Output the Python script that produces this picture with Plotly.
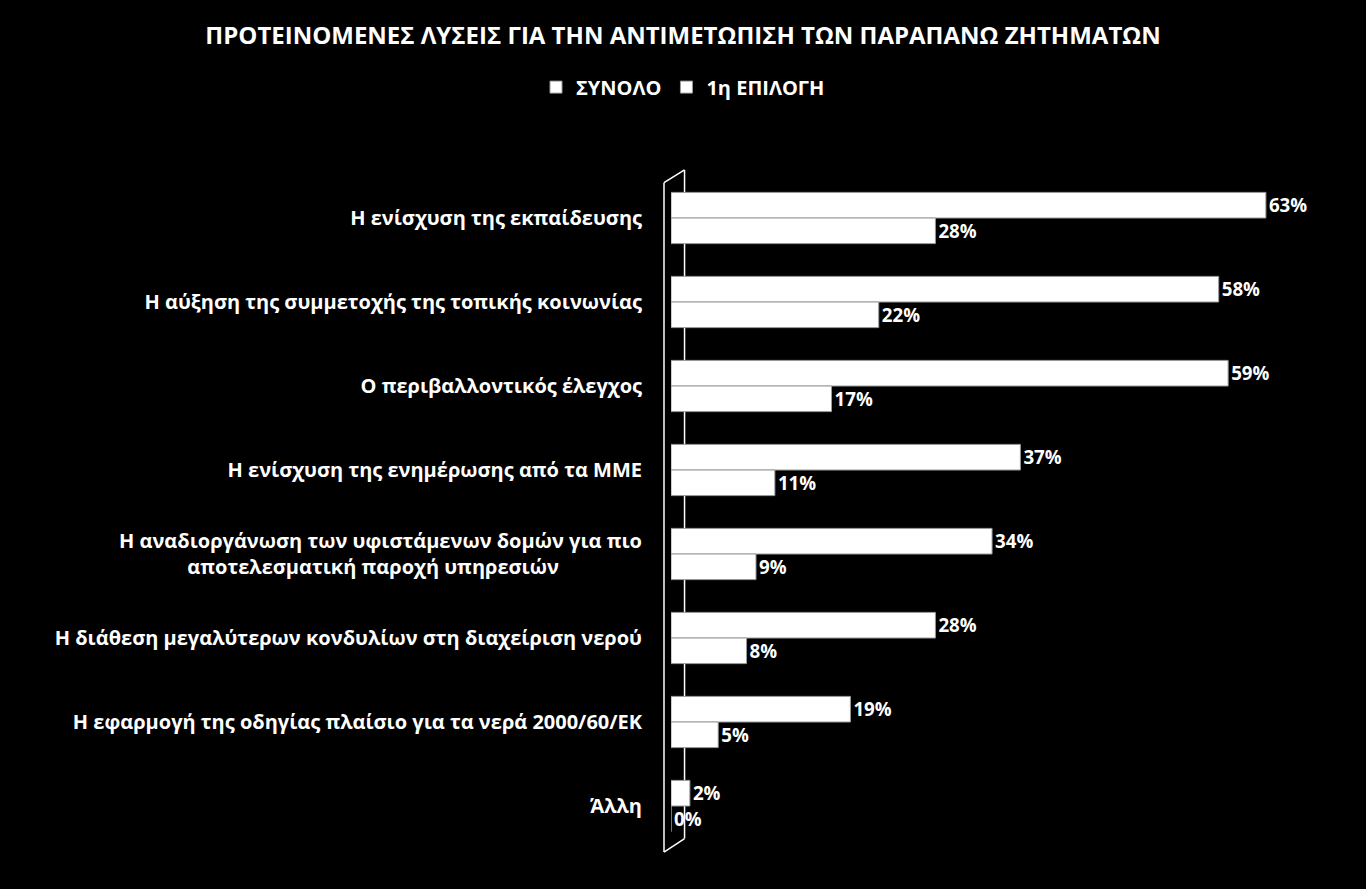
import plotly.graph_objects as go

categories = [
    "Η ενίσχυση της εκπαίδευσης",
    "Η αύξηση της συμμετοχής της τοπικής κοινωνίας",
    "Ο περιβαλλοντικός έλεγχος",
    "Η ενίσχυση της ενημέρωσης από τα ΜΜΕ",
    "Η αναδιοργάνωση των υφιστάμενων δομών για πιο<br>αποτελεσματική παροχή υπηρεσιών" + "\u00a0" * 16,
    "Η διάθεση μεγαλύτερων κονδυλίων στη διαχείριση νερού",
    "Η εφαρμογή της οδηγίας πλαίσιο για τα νερά 2000/60/ΕΚ",
    "Άλλη",
]
synolo = [0.63, 0.58, 0.59, 0.37, 0.34, 0.28, 0.19, 0.02]
epilogi1 = [0.28, 0.22, 0.17, 0.11, 0.09, 0.08, 0.05, 0.00]
series_names = ["ΣΥΝΟΛΟ", "1η ΕΠΙΛΟΓΗ"]

FONT = "Open Sans"
fig = go.Figure()
for name, vals in zip(series_names, [synolo, epilogi1]):
    fig.add_trace(go.Bar(
        y=categories, x=vals, name=name, orientation="h",
        marker=dict(color="#ffffff", line=dict(color="#9a9a9a", width=1)),
        text=[f"<b>{v*100:.0f}%</b>" for v in vals],
        textposition="outside",
        textfont=dict(color="#ffffff", size=19, family=FONT),
        cliponaxis=False,
    ))

# 3D wall outline (decoration)
wall = dict(type="line", xref="paper", yref="paper", line=dict(color="#ffffff", width=1.5), layer="below")
shapes = [
    dict(wall, x0=-0.0106, x1=-0.0106, y0=-0.006, y1=0.99),
    dict(wall, x0=0.0205, x1=0.0205, y0=0.014, y1=1.009),
    dict(wall, x0=-0.0106, x1=0.0205, y0=0.99, y1=1.009),
    dict(wall, x0=-0.0106, x1=0.0205, y0=-0.006, y1=0.014),
]

fig.update_layout(
    width=1366, height=889,
    paper_bgcolor="#000000", plot_bgcolor="#000000",
    margin=dict(l=671, r=34, t=176, b=41),
    barmode="group", bargap=0.39, bargroupgap=0,
    title=dict(text="<b>ΠΡΟΤΕΙΝΟΜΕΝΕΣ ΛΥΣΕΙΣ ΓΙΑ ΤΗΝ ΑΝΤΙΜΕΤΩΠΙΣΗ ΤΩΝ ΠΑΡΑΠΑΝΩ ΖΗΤΗΜΑΤΩΝ</b>",
               x=0.5, xanchor="center", y=0.96, yanchor="middle",
               font=dict(color="#ffffff", size=24, family=FONT)),
    legend=dict(orientation="h", xref="container", yref="container",
                x=0.5, xanchor="center", y=0.902, yanchor="middle",
                font=dict(color="#ffffff", size=20, family=FONT, weight="bold"),
                bgcolor="rgba(0,0,0,0)", traceorder="normal"),
    font=dict(family=FONT, color="#ffffff"),
    xaxis=dict(range=[0, 0.70], visible=False, showgrid=False, zeroline=False),
    yaxis=dict(autorange="reversed", showgrid=False, zeroline=False, showline=False,
               ticks="", ticklabelstandoff=28,
               tickfont=dict(color="#ffffff", size=20, family=FONT, weight="bold")),
    shapes=shapes,
    showlegend=True,
)
fig.write_html("out.html")
